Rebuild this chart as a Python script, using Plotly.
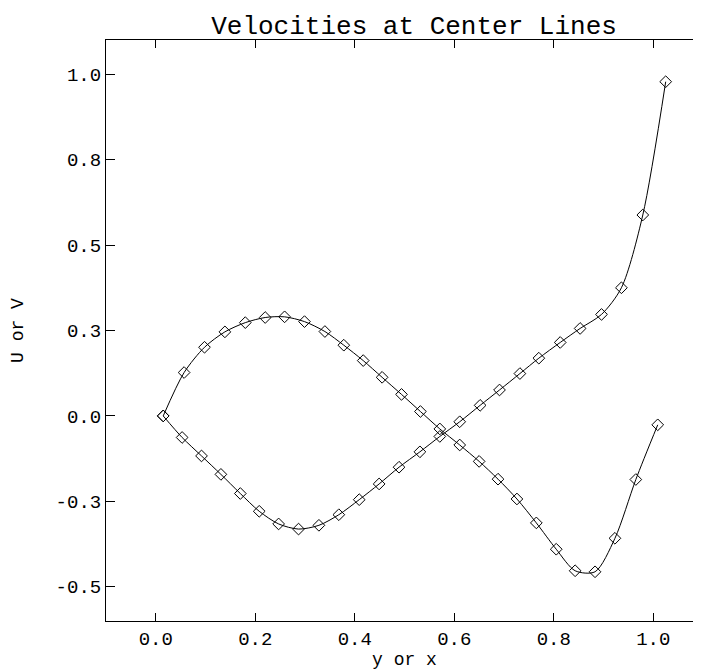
import plotly.graph_objects as go

# U velocity along vertical centre line (vs y)
u_y = [0.015, 0.053, 0.092, 0.131, 0.170, 0.208, 0.247, 0.287, 0.328, 0.368,
       0.409, 0.449, 0.489, 0.531, 0.571, 0.611, 0.652, 0.691, 0.732, 0.770,
       0.813, 0.853, 0.896, 0.936, 0.979, 1.025]
u_val = [0.000, -0.063, -0.117, -0.171, -0.227, -0.279, -0.316, -0.331, -0.320, -0.289,
         -0.245, -0.199, -0.150, -0.105, -0.060, -0.017, 0.031, 0.076, 0.124, 0.169,
         0.215, 0.256, 0.297, 0.375, 0.588, 0.978]

# V velocity along horizontal centre line (vs x)
v_x = [0.015, 0.057, 0.098, 0.139, 0.180, 0.220, 0.259, 0.299, 0.340, 0.378,
       0.417, 0.455, 0.494, 0.532, 0.571, 0.611, 0.650, 0.688, 0.726, 0.765,
       0.805, 0.843, 0.883, 0.923, 0.965, 1.009]
v_val = [0.000, 0.127, 0.201, 0.246, 0.273, 0.288, 0.290, 0.276, 0.247, 0.207,
         0.162, 0.113, 0.063, 0.013, -0.038, -0.085, -0.133, -0.185, -0.243, -0.313,
         -0.390, -0.453, -0.456, -0.358, -0.186, -0.026]

x_ticks = [0.0, 0.2, 0.4, 0.6, 0.8, 1.0]
x_tick_text = ["0.0", "0.2", "0.4", "0.6", "0.8", "1.0"]
y_ticks = [-0.5, -0.25, 0.0, 0.25, 0.5, 0.75, 1.0]
y_tick_text = ["-0.5", "-0.3", "0.0", "0.3", "0.5", "0.8", "1.0"]

FONT = "Liberation Mono, Courier New, monospace"

fig = go.Figure()
for xs, ys in [(v_x, v_val), (u_y, u_val)]:
    fig.add_trace(go.Scatter(
        x=xs, y=ys, mode="lines+markers",
        line=dict(color="black", width=1, shape="spline", smoothing=0.8),
        marker=dict(symbol="diamond-open", size=9, color="black", line=dict(width=1, color="black")),
        showlegend=False,
    ))

fig.update_layout(
    width=701, height=671,
    margin=dict(l=98, r=6, t=32, b=58, autoexpand=False),
    paper_bgcolor="white", plot_bgcolor="white",
    font=dict(family=FONT, color="black", size=18),
    title=dict(text="Velocities at Center Lines", font=dict(family=FONT, size=26, color="black"),
               x=0.516, xanchor="center", xref="paper",
               y=0.975, yanchor="middle", yref="container", automargin=False),
)
fig.update_xaxes(
    range=[-0.1, 1.1], tickvals=x_ticks, ticktext=x_tick_text,
    showline=True, linecolor="black", linewidth=1, mirror="allticks",
    ticks="inside", ticklen=8, tickcolor="black", showgrid=False, zeroline=False,
    tickfont=dict(family=FONT, size=19), automargin=False,
    title=dict(text="y or x", font=dict(family=FONT, size=18), standoff=2),
)
fig.update_yaxes(
    range=[-0.6, 1.1], tickvals=y_ticks, ticktext=y_tick_text,
    showline=True, linecolor="black", linewidth=1, mirror="allticks",
    ticks="inside", ticklen=9, tickcolor="black", showgrid=False, zeroline=False,
    tickfont=dict(family=FONT, size=19), automargin=False,
    title=dict(text="U or V", font=dict(family=FONT, size=18), standoff=28),
)

fig.write_html("out.html")
